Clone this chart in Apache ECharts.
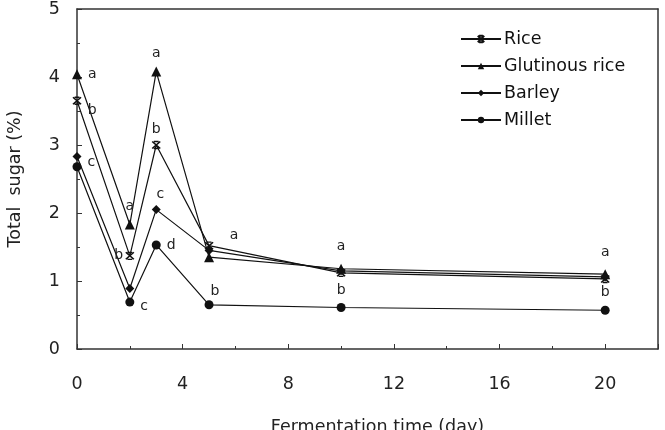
<!DOCTYPE html>
<html>
<head>
<meta charset="utf-8">
<script src="https://cdn.jsdelivr.net/npm/echarts@6/dist/echarts.min.js"></script>
<style>
  html, body { margin: 0; padding: 0; background: #fff; }
  #box1 { width: 665px; height: 430px; }
</style>
</head>
<body>
<div id="box1"></div>
<script>
var days = [0, 2, 3, 5, 10, 20];
var xTicks = [0, 4, 8, 12, 16, 20];
var yTicks = [0, 1, 2, 3, 4, 5];

var rice = [3.65, 1.37, 3.0, 1.52, 1.12, 1.03];
var glutinous = [4.04, 1.83, 4.08, 1.35, 1.18, 1.1];
var barley = [2.83, 0.89, 2.05, 1.45, 1.15, 1.06];
var millet = [2.68, 0.69, 1.53, 0.65, 0.61, 0.57];

// significance letters ('' = none)
var riceLetters = ['b', 'b', 'b', 'a', '', ''];
var glutinousLetters = ['a', 'a', 'a', '', 'a', 'a'];
var barleyLetters = ['c', '', 'c', '', '', ''];
var milletLetters = ['', 'c', 'd', 'b', 'b', 'b'];

// where each letter sits relative to its point
var ricePos = [['right', [2, 10]], ['left', [2, 0]], ['top', [0, 0]], ['right', [12, -10]], null, null];
var glutinousPos = [['right', [2, 0]], ['top', [0, -2]], ['top', [0, -2]], null, ['top', [0, -6]], ['top', [0, -6]]];
var barleyPos = [['right', [2, 6]], null, ['top', [4, 0]], null, null, null];
var milletPos = [null, ['right', [2, 4]], ['right', [2, 0]], ['top', [6, 2]], ['top', [0, -2]], ['top', [0, -2]]];

var riceSymbol = 'path://M0 0 L10 10 M10 0 L0 10 M2 0 L8 0 M2 10 L8 10';

function buildData(vals, letters, pos) {
    return days.map(function (d, i) {
        var item = { value: [d, vals[i]] };
        if (letters[i] && pos[i]) {
            item.label = {
                show: true,
                formatter: letters[i],
                position: pos[i][0],
                offset: pos[i][1]
            };
        }
        return item;
    });
}

var font = 'DejaVu Sans, sans-serif';
var labelStyle = { color: '#222', fontSize: 14, fontFamily: font, distance: 4 };

function line(name, vals, letters, pos, symbol, size, extra) {
    var s = {
        name: name,
        type: 'line',
        data: buildData(vals, letters, pos),
        symbol: symbol,
        symbolSize: size,
        showAllSymbol: true,
        lineStyle: { color: '#111', width: 1.2 },
        itemStyle: { color: '#111' },
        label: labelStyle,
        z: 3
    };
    if (extra) {
        for (var k in extra) s[k] = extra[k];
    }
    return s;
}

var axisColor = '#333';
var tickFont = { color: '#222', fontSize: 17.5, fontFamily: font };

var myChart = echarts.init(document.getElementById('box1'));

var option = {
    animation: false,
    backgroundColor: '#fff',
    textStyle: { fontFamily: font },
    grid: { left: 77, right: 7, top: 9, bottom: 81, outerBoundsMode: 'none' },
    legend: {
        left: 455,
        top: 25,
        orient: 'vertical',
        itemWidth: 40,
        itemHeight: 8,
        itemGap: 9,
        textStyle: { color: '#111', fontSize: 17.5, fontFamily: font, padding: [0, 0, 0, -2] },
        data: ['Rice', 'Glutinous rice', 'Barley', 'Millet']
    },
    xAxis: [{
        type: 'value',
        min: 0,
        max: 22,
        interval: 4,
        name: 'Fermentation time (day)',
        nameLocation: 'middle',
        nameGap: 69,
        nameTextStyle: { color: '#222', fontSize: 17.5, fontFamily: font, padding: [0, 0, 0, 20] },
        axisLine: { onZero: false, lineStyle: { color: axisColor, width: 1.5 } },
        axisTick: { inside: true, length: 5, lineStyle: { color: axisColor } },
        minorTick: { show: true, splitNumber: 2, length: 3, lineStyle: { color: axisColor } },
        axisLabel: Object.assign({
            margin: 26,
            verticalAlign: 'top',
            formatter: function (v) { return xTicks.indexOf(v) >= 0 ? v : ''; },
            showMaxLabel: false
        }, tickFont),
        splitLine: { show: false }
    }, {
        type: 'value',
        position: 'top',
        min: 0,
        max: 22,
        axisLine: { show: true, onZero: false, lineStyle: { color: axisColor, width: 1.5 } },
        axisTick: { show: false },
        axisLabel: { show: false },
        splitLine: { show: false }
    }],
    yAxis: [{
        type: 'value',
        min: 0,
        max: 5,
        interval: 1,
        name: 'Total  sugar (%)',
        nameLocation: 'middle',
        nameGap: 53,
        nameTextStyle: { color: '#222', fontSize: 17.5, fontFamily: font },
        axisLine: { show: true, onZero: false, lineStyle: { color: axisColor, width: 1.5 } },
        axisTick: { show: true, inside: true, length: 5, lineStyle: { color: axisColor } },
        minorTick: { show: true, splitNumber: 2, length: 3, lineStyle: { color: axisColor } },
        axisLabel: Object.assign({
            margin: 17,
            formatter: function (v) { return yTicks.indexOf(v) >= 0 ? v : ''; }
        }, tickFont),
        splitLine: { show: false }
    }, {
        type: 'value',
        position: 'right',
        min: 0,
        max: 5,
        axisLine: { show: true, onZero: false, lineStyle: { color: axisColor, width: 1.5 } },
        axisTick: { show: false },
        axisLabel: { show: false },
        splitLine: { show: false }
    }],
    series: [
        line('Rice', rice, riceLetters, ricePos, riceSymbol, [8, 7], {
            itemStyle: { color: 'transparent', borderColor: '#111', borderWidth: 1.5 }
        }),
        line('Glutinous rice', glutinous, glutinousLetters, glutinousPos, 'triangle', 10),
        line('Barley', barley, barleyLetters, barleyPos, 'diamond', 9),
        line('Millet', millet, milletLetters, milletPos, 'circle', 9)
    ]
};

myChart.setOption(option);
window.addEventListener('resize', function () {
    myChart.resize();
});
</script>
</body>
</html>
